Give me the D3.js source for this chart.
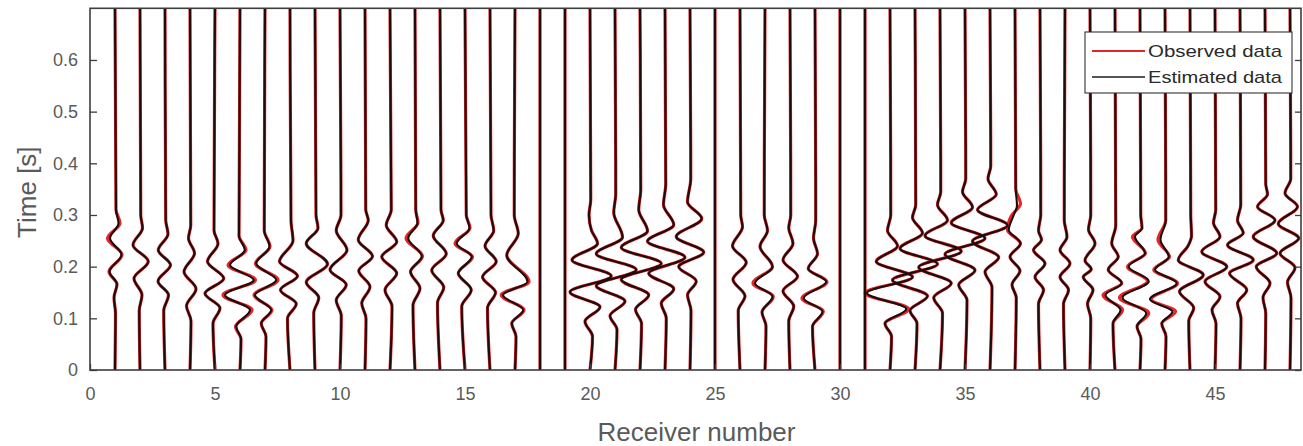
<!DOCTYPE html>
<html>
<head>
<meta charset="utf-8">
<script src="https://cdn.jsdelivr.net/npm/d3@7"></script>
<style>
  body { margin: 0; background: #fff; }
  svg { display: block; font-family: "Liberation Sans", Arial, Helvetica, sans-serif; }
</style>
</head>
<body>
<svg id="chart" width="1303" height="446"></svg>
<script>
// Receiver positions along the line
const receivers = [1,2,3,4,5,6,7,8,9,10,11,12,13,14,15,16,17,18,19,20,21,22,23,24,
                   25,26,27,28,29,30,31,32,33,34,35,36,37,38,39,40,41,42,43,44,45,46,47,48];

// Estimated traces: wiggle extrema per receiver as [time (s), deflection (receiver units)],
// listed from late to early time. Empty lists are dead traces.
const estimated = [
  [[0.31,0.04],[0.284,0.14],[0.255,-0.2],[0.223,0.26],[0.19,-0.22],[0.166,0.08],[0.14,-0.04],[0.11,0.02]],
  [[0.30,0.03],[0.275,0.1],[0.242,-0.28],[0.21,0.33],[0.177,-0.24],[0.145,0.08],[0.115,-0.03]],
  [[0.29,0.03],[0.263,0.12],[0.232,-0.27],[0.203,0.22],[0.172,-0.28],[0.145,0.14],[0.115,-0.05]],
  [[0.28,0.03],[0.255,-0.06],[0.226,0.18],[0.19,-0.24],[0.157,0.24],[0.124,-0.14],[0.095,0.04]],
  [[0.27,-0.04],[0.245,0.12],[0.21,-0.3],[0.177,0.35],[0.148,-0.4],[0.12,0.2],[0.09,-0.08]],
  [[0.26,-0.04],[0.232,0.19],[0.203,-0.4],[0.174,0.55],[0.145,-0.6],[0.116,0.4],[0.084,-0.15],[0.06,0.04]],
  [[0.27,-0.03],[0.239,0.18],[0.206,-0.35],[0.174,0.45],[0.145,-0.4],[0.116,0.25],[0.09,-0.15],[0.065,0.04]],
  [[0.29,0.04],[0.25,0.12],[0.21,-0.42],[0.182,0.3],[0.155,-0.38],[0.128,0.25],[0.1,-0.1]],
  [[0.3,0.04],[0.275,0.12],[0.245,-0.35],[0.205,0.5],[0.17,-0.35],[0.14,0.15],[0.11,-0.05]],
  [[0.3,0.04],[0.27,-0.15],[0.232,0.28],[0.194,-0.4],[0.165,0.25],[0.135,-0.15],[0.105,0.05]],
  [[0.31,0.03],[0.29,0.13],[0.252,-0.27],[0.22,0.3],[0.192,-0.25],[0.161,0.2],[0.129,-0.13],[0.1,0.04]],
  [[0.31,0.05],[0.28,-0.15],[0.248,0.27],[0.219,-0.33],[0.187,0.27],[0.155,-0.2],[0.123,0.08]],
  [[0.31,0.03],[0.285,0.1],[0.255,-0.27],[0.22,0.27],[0.19,-0.18],[0.158,0.2],[0.125,-0.08]],
  [[0.31,0.04],[0.29,0.13],[0.26,-0.27],[0.225,0.25],[0.193,-0.33],[0.16,0.15],[0.13,-0.1]],
  [[0.3,0.05],[0.275,0.18],[0.245,-0.33],[0.219,0.27],[0.187,-0.27],[0.155,0.25],[0.123,-0.13]],
  [[0.3,0.04],[0.27,0.15],[0.24,-0.2],[0.21,0.25],[0.18,-0.3],[0.15,0.22],[0.12,-0.1]],
  [[0.3,-0.03],[0.264,0.13],[0.222,-0.33],[0.171,0.5],[0.145,-0.48],[0.116,0.33],[0.09,-0.13],[0.065,0.04]],
  [],
  [],
  [[0.33,0.03],[0.3,-0.04],[0.27,0.06],[0.245,0.3],[0.213,-0.72],[0.182,0.85],[0.151,-0.8],[0.122,0.4],[0.094,-0.2],[0.065,0.1]],
  [[0.34,0.03],[0.305,-0.05],[0.257,0.3],[0.225,-0.75],[0.194,0.85],[0.163,-0.75],[0.133,0.4],[0.105,-0.2],[0.078,0.08]],
  [[0.35,0.03],[0.31,-0.05],[0.269,0.3],[0.237,-0.75],[0.206,0.85],[0.175,-0.75],[0.145,0.35],[0.117,-0.18],[0.09,0.06]],
  [[0.36,0.03],[0.32,-0.06],[0.281,0.35],[0.249,-0.7],[0.218,0.8],[0.187,-0.65],[0.157,0.35],[0.129,-0.15],[0.1,0.05]],
  [[0.37,0.03],[0.325,-0.1],[0.293,0.47],[0.258,-0.55],[0.228,0.55],[0.2,-0.45],[0.172,0.25],[0.145,-0.1],[0.115,0.04]],
  [],
  [[0.3,0.03],[0.277,0.1],[0.24,-0.3],[0.208,0.25],[0.175,-0.28],[0.143,0.2],[0.115,-0.07]],
  [[0.3,-0.03],[0.27,0.1],[0.239,-0.2],[0.2,0.3],[0.168,-0.4],[0.142,0.3],[0.112,-0.12],[0.085,0.04]],
  [[0.3,0.03],[0.275,-0.05],[0.245,0.12],[0.213,-0.28],[0.181,0.3],[0.153,-0.28],[0.123,0.15],[0.095,-0.05]],
  [[0.29,0.03],[0.255,-0.06],[0.225,0.1],[0.196,-0.27],[0.171,0.45],[0.139,-0.45],[0.113,0.3],[0.084,-0.1]],
  [],
  [],
  [[0.3,0.03],[0.27,-0.1],[0.24,0.3],[0.21,-0.55],[0.18,0.9],[0.149,-0.92],[0.118,0.65],[0.09,-0.2],[0.065,0.06]],
  [[0.32,0.03],[0.295,-0.1],[0.265,0.3],[0.235,-0.6],[0.205,0.9],[0.174,-0.9],[0.143,0.5],[0.115,-0.2],[0.09,0.08]],
  [[0.345,0.03],[0.32,-0.1],[0.29,0.3],[0.26,-0.6],[0.23,0.85],[0.199,-0.85],[0.168,0.45],[0.14,-0.25],[0.11,0.1]],
  [[0.37,0.03],[0.345,-0.1],[0.315,0.3],[0.285,-0.55],[0.255,0.8],[0.224,-0.8],[0.193,0.4],[0.165,-0.25],[0.135,0.08]],
  [[0.395,0.03],[0.37,-0.08],[0.34,0.25],[0.31,-0.5],[0.28,0.7],[0.249,-0.7],[0.218,0.35],[0.19,-0.2],[0.16,0.08]],
  [[0.35,0.03],[0.318,0.08],[0.3,-0.05],[0.271,-0.25],[0.245,0.22],[0.219,-0.2],[0.192,0.2],[0.165,-0.12],[0.14,0.05]],
  [[0.3,0.03],[0.27,-0.06],[0.252,0.06],[0.232,-0.26],[0.206,0.2],[0.18,-0.2],[0.155,0.14],[0.128,-0.06]],
  [[0.29,-0.03],[0.258,0.08],[0.232,-0.2],[0.206,0.2],[0.18,-0.2],[0.155,0.14],[0.128,-0.06]],
  [[0.3,0.03],[0.272,-0.06],[0.245,0.2],[0.212,-0.2],[0.195,0.05],[0.18,-0.27],[0.155,0.12],[0.128,-0.1],[0.1,0.03]],
  [[0.28,0.03],[0.245,-0.13],[0.219,0.13],[0.194,-0.27],[0.168,0.27],[0.145,-0.38],[0.116,0.22],[0.09,-0.08]],
  [[0.3,0.03],[0.275,0.08],[0.258,-0.2],[0.226,0.2],[0.2,-0.45],[0.172,0.35],[0.14,-0.7],[0.11,0.25],[0.084,-0.12],[0.06,0.04]],
  [[0.29,0.03],[0.252,-0.18],[0.219,0.15],[0.194,-0.4],[0.168,0.47],[0.137,-0.6],[0.113,0.3],[0.09,-0.13],[0.065,0.04]],
  [[0.3,0.03],[0.26,0.06],[0.24,-0.08],[0.213,-0.47],[0.184,0.53],[0.152,-0.42],[0.12,0.15],[0.095,-0.05]],
  [[0.31,0.03],[0.285,-0.06],[0.258,0.2],[0.229,-0.53],[0.2,0.47],[0.171,-0.4],[0.142,0.2],[0.116,-0.12],[0.09,0.04]],
  [[0.32,0.03],[0.29,-0.1],[0.265,0.13],[0.242,-0.5],[0.213,0.53],[0.187,-0.42],[0.155,0.27],[0.129,-0.1],[0.1,0.04]],
  [[0.36,0.03],[0.34,0.1],[0.316,-0.3],[0.29,0.4],[0.258,-0.47],[0.226,0.47],[0.2,-0.35],[0.168,0.2],[0.14,-0.08],[0.11,0.03]],
  [[0.37,0.03],[0.342,-0.2],[0.316,0.3],[0.283,-0.47],[0.255,0.35],[0.226,-0.4],[0.198,0.2],[0.17,-0.1],[0.14,0.04]]
];

// Observed traces that depart visibly from the estimate (others coincide with it)
const observedDiffering = {
  1:  [[0.31,0.04],[0.284,0.2],[0.255,-0.3],[0.223,0.28],[0.19,-0.24],[0.166,0.08],[0.14,-0.04],[0.11,0.02]],
  6:  [[0.26,-0.04],[0.232,0.24],[0.203,-0.48],[0.174,0.62],[0.145,-0.68],[0.116,0.48],[0.084,-0.18],[0.06,0.04]],
  7:  [[0.27,-0.03],[0.239,0.2],[0.206,-0.38],[0.174,0.52],[0.145,-0.44],[0.116,0.28],[0.09,-0.15],[0.065,0.04]],
  13: [[0.31,0.03],[0.285,0.12],[0.255,-0.36],[0.22,0.3],[0.19,-0.18],[0.158,0.2],[0.125,-0.08]],
  15: [[0.3,0.05],[0.275,0.2],[0.245,-0.4],[0.219,0.3],[0.187,-0.27],[0.155,0.25],[0.123,-0.13]],
  17: [[0.3,-0.03],[0.264,0.13],[0.222,-0.33],[0.171,0.56],[0.145,-0.55],[0.116,0.36],[0.09,-0.13],[0.065,0.04]],
  27: [[0.3,-0.03],[0.27,0.1],[0.239,-0.2],[0.2,0.3],[0.168,-0.48],[0.142,0.33],[0.112,-0.12],[0.085,0.04]],
  29: [[0.29,0.03],[0.255,-0.06],[0.225,0.1],[0.196,-0.27],[0.171,0.48],[0.139,-0.52],[0.113,0.33],[0.084,-0.1]],
  32: [[0.3,0.03],[0.27,-0.1],[0.24,0.3],[0.21,-0.55],[0.18,0.9],[0.149,-1.0],[0.118,0.75],[0.09,-0.2],[0.065,0.06]],
  37: [[0.35,0.03],[0.322,0.22],[0.298,-0.15],[0.271,-0.3],[0.245,0.22],[0.219,-0.2],[0.192,0.2],[0.165,-0.12],[0.14,0.05]],
  41: [[0.28,0.03],[0.245,-0.13],[0.219,0.13],[0.194,-0.27],[0.168,0.27],[0.145,-0.48],[0.116,0.3],[0.09,-0.08]],
  42: [[0.3,0.03],[0.275,0.08],[0.258,-0.3],[0.226,0.22],[0.2,-0.5],[0.172,0.3],[0.14,-0.82],[0.11,0.35],[0.084,-0.12],[0.06,0.04]],
  43: [[0.29,0.03],[0.252,-0.28],[0.219,0.18],[0.194,-0.45],[0.168,0.5],[0.137,-0.55],[0.113,0.42],[0.09,-0.13],[0.065,0.04]]
};

// Axis ticks
const xTicks = [0,5,10,15,20,25,30,35,40,45];
const yTicks = [0,0.1,0.2,0.3,0.4,0.5,0.6];
const yTickLabels = ["0","0.1","0.2","0.3","0.4","0.5","0.6"];

const seriesNames = ["Observed data", "Estimated data"];
const xDomain = [0, 48.44];
const yDomain = [0, 0.7];

// ---------------------------------------------------------------
const svg = d3.select("#chart");
const plot = { left: 90, right: 1301, top: 8.3, bottom: 370 };

const x = d3.scaleLinear().domain(xDomain).range([plot.left, plot.right]);
const y = d3.scaleLinear().domain(yDomain).range([plot.bottom, plot.top]);

const colObserved = "#e3262a";
const colEstimated = "#1c0c0c";

svg.append("defs").append("clipPath").attr("id", "plotClip")
  .append("rect")
  .attr("x", plot.left).attr("y", plot.top)
  .attr("width", plot.right - plot.left).attr("height", plot.bottom - plot.top);

// Build a full trace: zero deflection at both ends of the record, extrema in between
function tracePoints(rec, extrema) {
  const pts = [[rec, yDomain[1]]];
  extrema.forEach(([t, dx]) => pts.push([rec + dx, t]));
  pts.push([rec, yDomain[0]]);
  return pts;
}

const wiggle = d3.line()
  .x(d => x(d[0]))
  .y(d => y(d[1]))
  .curve(d3.curveMonotoneY);

const traces = svg.append("g").attr("clip-path", "url(#plotClip)");

// Observed (red) underneath
traces.append("g")
  .selectAll("path")
  .data(receivers)
  .join("path")
  .attr("d", r => wiggle(tracePoints(r, observedDiffering[r] || estimated[r - 1])))
  .attr("fill", "none")
  .attr("stroke", colObserved)
  .attr("stroke-width", 3.2)
  .attr("stroke-linejoin", "round");

// Estimated (black) on top
traces.append("g")
  .selectAll("path")
  .data(receivers)
  .join("path")
  .attr("d", r => wiggle(tracePoints(r, estimated[r - 1])))
  .attr("fill", "none")
  .attr("stroke", colEstimated)
  .attr("stroke-width", 2.1)
  .attr("stroke-linejoin", "round");

// Axes (ticks point inward)
const axisColor = "#3d3d3d";
const textColor = "#5a5a5a";

const xAxis = svg.append("g")
  .attr("transform", `translate(0,${plot.bottom})`)
  .call(d3.axisBottom(x).tickValues(xTicks).tickSize(-6).tickSizeOuter(0).tickPadding(17));
const yAxis = svg.append("g")
  .attr("transform", `translate(${plot.left},0)`)
  .call(d3.axisLeft(y).tickValues(yTicks).tickFormat((d, i) => yTickLabels[i])
        .tickSize(-7).tickSizeOuter(0).tickPadding(12));
const yAxisRight = svg.append("g")
  .attr("transform", `translate(${plot.right},0)`)
  .call(d3.axisRight(y).tickValues(yTicks).tickSize(-6).tickSizeOuter(0).tickFormat(""));

[xAxis, yAxis, yAxisRight].forEach(g => {
  g.select(".domain").remove();
  g.selectAll(".tick line").attr("stroke", axisColor).attr("stroke-width", 1.3);
  g.selectAll(".tick text").attr("fill", textColor).attr("font-size", 18);
});

// Axes box
svg.append("rect")
  .attr("x", plot.left).attr("y", plot.top)
  .attr("width", plot.right - plot.left).attr("height", plot.bottom - plot.top)
  .attr("fill", "none").attr("stroke", axisColor).attr("stroke-width", 1.6);

// Axis titles
svg.append("text")
  .attr("x", (plot.left + plot.right) / 2 + 1)
  .attr("y", 441)
  .attr("text-anchor", "middle")
  .attr("fill", textColor)
  .attr("font-size", 26)
  .text("Receiver number");

svg.append("text")
  .attr("transform", `translate(36,${(plot.top + plot.bottom) / 2 + 3}) rotate(-90)`)
  .attr("text-anchor", "middle")
  .attr("fill", textColor)
  .attr("font-size", 26)
  .text("Time [s]");

// Legend
const legend = svg.append("g").attr("transform", "translate(1085,32)");
legend.append("rect")
  .attr("width", 207).attr("height", 61)
  .attr("fill", "#fff").attr("stroke", "#333").attr("stroke-width", 1.1);
const legendColors = [colObserved, "#555"];
seriesNames.forEach((name, i) => {
  const cy = 19 + i * 26;
  legend.append("line")
    .attr("x1", 7).attr("x2", 60).attr("y1", cy).attr("y2", cy)
    .attr("stroke", legendColors[i]).attr("stroke-width", 2.2);
  legend.append("text")
    .attr("x", 63).attr("y", cy + 6)
    .attr("fill", "#2a2a2a")
    .attr("font-size", 17)
    .attr("textLength", 134)
    .attr("lengthAdjust", "spacingAndGlyphs")
    .text(name);
});
</script>
</body>
</html>
